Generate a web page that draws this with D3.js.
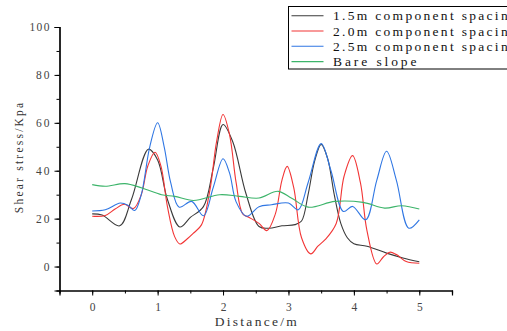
<!DOCTYPE html>
<html>
<head>
<meta charset="utf-8">
<script src="https://cdn.jsdelivr.net/npm/d3@7"></script>
<style>
  body { margin: 0; background: #fff; }
  svg { display: block; }
  svg text { font-family: "Liberation Serif", "DejaVu Serif", serif; }
</style>
</head>
<body>
<svg width="507" height="331"></svg>
<script>
// key points (distance in m, shear stress in kPa)
var xBlack = [0, 0.15, 0.42, 0.6, 0.86, 1.0, 1.15, 1.34, 1.5, 1.7, 1.85, 2.0, 2.15, 2.35, 2.55, 2.7, 2.9, 3.1, 3.2, 3.3, 3.4, 3.5, 3.6, 3.7, 3.8, 3.9, 4.0, 4.2, 4.5, 4.75, 5.0];
var yBlack = [22, 21.5, 17, 28, 49, 44.5, 28, 16.5, 20.5, 25, 41, 59.3, 52, 30.5, 16.7, 16, 17, 17.5, 19, 30, 44, 51, 45, 30, 18, 12, 9.5, 8.5, 5.6, 3.6, 2];

var xRed = [0, 0.2, 0.35, 0.49, 0.63, 0.75, 0.85, 0.96, 1.05, 1.15, 1.26, 1.34, 1.45, 1.55, 1.67, 1.8, 1.9, 2.0, 2.1, 2.2, 2.3, 2.4, 2.55, 2.67, 2.8, 2.9, 2.98, 3.08, 3.2, 3.34, 3.45, 3.56, 3.73, 3.85, 3.98, 4.1, 4.2, 4.35, 4.45, 4.55, 4.65, 4.8, 5.0];
var yRed = [21, 21.3, 24, 26, 24.2, 30, 42, 47.7, 42, 25, 12.5, 9.4, 11.5, 14, 17.4, 32, 52, 63.5, 55, 35, 22, 20.5, 18, 15, 22, 36, 41.8, 33, 12, 5.3, 8.5, 11.2, 18, 37.7, 46.3, 35, 15, 1.1, 4, 6, 5, 2.1, 1.4];

var xBlue = [0, 0.2, 0.43, 0.55, 0.65, 0.75, 0.88, 1.0, 1.1, 1.2, 1.33, 1.52, 1.7, 1.85, 2.0, 2.1, 2.2, 2.36, 2.55, 2.74, 3.0, 3.15, 3.3, 3.5, 3.65, 3.84, 3.98, 4.18, 4.35, 4.5, 4.65, 4.84, 5.0];
var yBlue = [23.2, 23.7, 26.5, 25.5, 23.4, 30, 50, 60, 50, 35, 24.8, 27.2, 21.2, 33, 45, 39, 27, 21, 25, 25.8, 26.5, 23.7, 35, 51.3, 40, 23, 25.1, 19.5, 36, 48.1, 36, 16, 19.5];

var xGreen = [0, 0.2, 0.5, 0.76, 1.06, 1.26, 1.55, 1.95, 2.25, 2.55, 2.84, 3.05, 3.3, 3.71, 4.14, 4.47, 4.73, 5.0];
var yGreen = [34.2, 33.5, 34.6, 32.8, 30, 29.3, 27.6, 30, 29.3, 28.6, 31.4, 28.5, 24.8, 27.2, 26.8, 24.4, 25.4, 24];

var seriesNames = ["1.5m component spacing", "2.0m component spacing", "2.5m component spacing", "Bare slope"];
var seriesColors = ["#3a3a3a", "#f23535", "#2f76e3", "#3cb46a"];
var xTicks = [0, 1, 2, 3, 4, 5];
var yTicks = [0, 20, 40, 60, 80, 100];

var series = [
    {name: seriesNames[0], color: seriesColors[0], xs: xBlack, ys: yBlack},
    {name: seriesNames[1], color: seriesColors[1], xs: xRed, ys: yRed},
    {name: seriesNames[2], color: seriesColors[2], xs: xBlue, ys: yBlue},
    {name: seriesNames[3], color: seriesColors[3], xs: xGreen, ys: yGreen}
];

var svg = d3.select("svg");
var mLeft = 59.5, mRight = 452, mTop = 27, mBottom = 290.5;

var x = d3.scaleLinear().domain([-0.5, 5.5]).range([mLeft, mRight]);
var y = d3.scaleLinear().domain([-10, 100]).range([mBottom, mTop]);

// the reference font is a fixed-width serif, so stretch each text to its monospaced width
function monoWidth(sel, charW) {
    sel.attr("textLength", function() { return this.textContent.length * charW; })
       .attr("lengthAdjust", "spacing");
}

var line = d3.line()
    .x(function(d) { return x(d[0]); })
    .y(function(d) { return y(d[1]); })
    .curve(d3.curveCatmullRom.alpha(0.5));

svg.append("g")
    .selectAll("path")
    .data(series)
    .enter()
    .append("path")
    .attr("fill", "none")
    .attr("stroke", function(d) { return d.color; })
    .attr("stroke-width", 1.1)
    .attr("d", function(d) { return line(d.xs.map(function(v, i) { return [v, d.ys[i]]; })); });

// axes
var xAxis = svg.append("g").attr("transform", "translate(0," + mBottom + ")");
xAxis.call(d3.axisBottom(x).tickValues(d3.range(-0.5, 5.51, 0.5)).tickSize(3).tickFormat(""));
xAxis.append("g").call(d3.axisBottom(x).tickValues(xTicks).tickSize(5).tickPadding(7).tickFormat(d3.format("d")));

var yAxis = svg.append("g").attr("transform", "translate(" + mLeft + ",0)");
yAxis.call(d3.axisLeft(y).tickValues(d3.range(-10, 100.1, 10)).tickSize(3).tickFormat(""));
yAxis.append("g").call(d3.axisLeft(y).tickValues(yTicks).tickSize(5).tickPadding(5).tickFormat(d3.format("d")));

svg.selectAll("g").attr("font-family", null).attr("font-size", null);
svg.selectAll(".domain").attr("stroke", "#000").attr("stroke-width", 1.2);
svg.selectAll(".tick line").attr("stroke", "#000");
svg.selectAll(".tick text")
    .attr("fill", "#444")
    .style("font-size", "11.5px")
    .filter(function() { return this.textContent !== ""; })
    .call(monoWidth, 6.7);

svg.append("text")
    .attr("x", (mLeft + mRight) / 2)
    .attr("y", 326)
    .attr("text-anchor", "middle")
    .attr("fill", "#333")
    .style("font-size", "13.5px")
    .text("Distance/m")
    .call(monoWidth, 8.2);

svg.append("text")
    .attr("transform", "translate(23,158) rotate(-90)")
    .attr("text-anchor", "middle")
    .attr("fill", "#333")
    .style("font-size", "11.5px")
    .text("Shear stress/Kpa")
    .call(monoWidth, 6.9);

// legend
var legend = svg.append("g");
legend.append("rect")
    .attr("x", 288.5).attr("y", 6.5)
    .attr("width", 240).attr("height", 62.5)
    .attr("fill", "#fff").attr("stroke", "#000").attr("stroke-width", 1);

var rows = legend.selectAll("g.row")
    .data(series)
    .enter()
    .append("g")
    .attr("class", "row")
    .attr("transform", function(d, i) { return "translate(0," + (15.7 + i * 15.3) + ")"; });

rows.append("line")
    .attr("x1", 291.5).attr("x2", 323.5)
    .attr("stroke", function(d) { return d.color; })
    .attr("stroke-width", 1.1);

rows.append("text")
    .attr("x", 333)
    .attr("dy", "0.35em")
    .attr("fill", "#111")
    .style("font-size", "13.5px")
    .text(function(d) { return d.name; })
    .call(monoWidth, 8.35);
</script>
</body>
</html>
